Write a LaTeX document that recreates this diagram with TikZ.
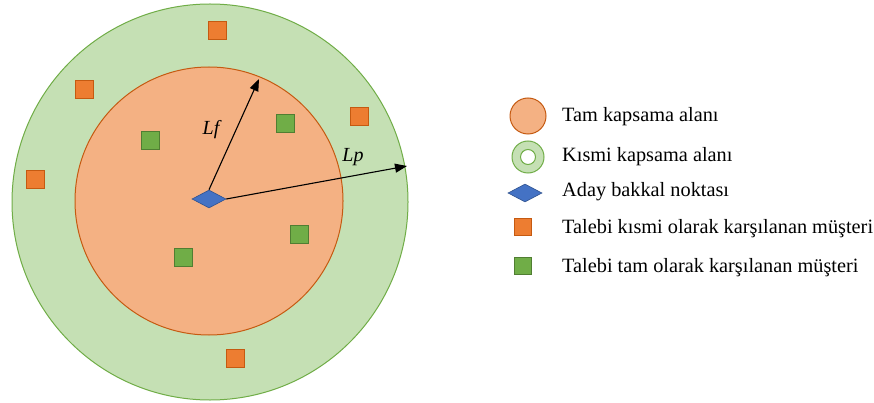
\documentclass[tikz,border=0pt]{standalone}
\usepackage{fontspec}
\setmainfont{Liberation Serif}
\usetikzlibrary{shapes.geometric,arrows.meta}
\definecolor{orfill}{HTML}{F4B183}
\definecolor{orline}{HTML}{C55A11}
\definecolor{grfill}{HTML}{C5E0B4}
\definecolor{grline}{HTML}{70AD47}
\definecolor{sqor}{HTML}{ED7D31}
\definecolor{sqgr}{HTML}{70AD47}
\definecolor{sqgrline}{HTML}{507E32}
\definecolor{dia}{HTML}{4472C4}
\definecolor{dialine}{HTML}{2F528F}
\tikzset{
  osq/.style={rectangle, minimum size=18pt, inner sep=0pt, fill=sqor, draw=orline, line width=0.8pt},
  gsq/.style={rectangle, minimum size=18pt, inner sep=0pt, fill=sqgr, draw=sqgrline, line width=0.8pt},
  lsq/.style={rectangle, minimum size=17pt, inner sep=0pt, line width=0.8pt},
  diam/.style={diamond, fill=dia, draw=dialine, line width=0.6pt, inner sep=0pt, minimum width=34pt, minimum height=18pt},
  leg/.style={anchor=west, font=\fontsize{20.3}{24}\selectfont, inner sep=0pt},
  arr/.style={-{Triangle[length=12pt,width=9pt]}, line width=1.1pt, black},
  lab/.style={font=\fontsize{20}{24}\selectfont\itshape, inner sep=0pt}
}
\begin{document}
\begin{tikzpicture}[x=1pt,y=-1pt]
\useasboundingbox (0,0) rectangle (874,403);
\fill[white] (0,0) rectangle (874,403);
\draw[fill=grfill, draw=grline, line width=1pt] (210,202) circle (198);
\draw[fill=orfill, draw=orline, line width=1pt] (209,201) circle (134);
\node[osq] (o1) at (217,30) {};
\node[osq] (o2) at (84,89) {};
\node[osq] (o3) at (359,116) {};
\node[osq] (o4) at (35,179) {};
\node[osq] (o5) at (235,358) {};
\node[gsq] (g1) at (150,140) {};
\node[gsq] (g2) at (285,123) {};
\node[gsq] (g3) at (299,234) {};
\node[gsq] (g4) at (183,257) {};
\coordinate (fend) at (259,79);
\coordinate (pend) at (407,166);
\node[diam] (c) at (209,199) {};
\draw[arr] (c.north) -- (fend);
\draw[arr] (c.east) -- (pend);
\node[lab] (lf) at (211,130) {Lf};
\node[lab] (lp) at (353,157) {Lp};
% legend
\draw[fill=orfill, draw=orline, line width=1pt] (528,116) circle (18);
\node[leg] (t1) at (562,117) {Tam kapsama alanı};
\draw[fill=grfill, draw=grline, line width=1pt, even odd rule] (528,157) circle (16) (528,157) circle (7.5);
\node[leg] (t2) at (562,157) {Kısmi kapsama alanı};
\node[diam] (d2) at (525,193) {};
\node[leg] (t3) at (562,192) {Aday bakkal noktası};
\node[lsq, fill=sqor, draw=orline] (s1) at (523,227) {};
\node[leg] (t4) at (562,229) {Talebi kısmi olarak karşılanan müşteri};
\node[lsq, fill=sqgr, draw=sqgrline] (s2) at (523,266) {};
\node[leg] (t5) at (562,268) {Talebi tam olarak karşılanan müşteri};
\end{tikzpicture}
\end{document}
